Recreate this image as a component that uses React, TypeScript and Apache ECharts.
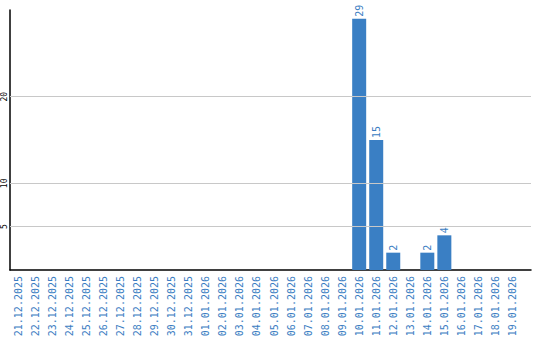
import React, { useEffect, useRef } from "react";
import * as echarts from "echarts";

const categories = [
  "21.12.2025", "22.12.2025", "23.12.2025", "24.12.2025", "25.12.2025",
  "26.12.2025", "27.12.2025", "28.12.2025", "29.12.2025", "30.12.2025",
  "31.12.2025", "01.01.2026", "02.01.2026", "03.01.2026", "04.01.2026",
  "05.01.2026", "06.01.2026", "07.01.2026", "08.01.2026", "09.01.2026",
  "10.01.2026", "11.01.2026", "12.01.2026", "13.01.2026", "14.01.2026",
  "15.01.2026", "16.01.2026", "17.01.2026", "18.01.2026", "19.01.2026",
];
const values = [
  0, 0, 0, 0, 0, 0, 0, 0, 0, 0,
  0, 0, 0, 0, 0, 0, 0, 0, 0, 0,
  29, 15, 2, 0, 2, 4, 0, 0, 0, 0,
];
const yTicks = [5, 10, 20];

export default function App() {
  const ref = useRef<HTMLDivElement>(null);
  useEffect(() => {
    if (!ref.current) return;
    const chart = echarts.init(ref.current, undefined, { renderer: "svg" });
    const mono = "DejaVu Sans Mono";
    chart.setOption({
      animation: false,
      grid: [
        { left: 10, right: 19, top: 10, bottom: 70, containLabel: false },
        { left: 10, right: 9, top: 10, bottom: 70, containLabel: false },
      ],
      xAxis: [
        {
          type: "category",
          gridIndex: 0,
          data: categories,
          axisLine: { show: false },
          axisTick: { show: false },
          axisLabel: {
            rotate: 90,
            interval: 0,
            color: "#3a7dc2",
            fontFamily: mono,
            fontSize: 10,
            margin: 6,
          },
        },
        {
          type: "value",
          gridIndex: 1,
          min: 0,
          max: 1,
          axisLine: { show: true, onZero: false, lineStyle: { color: "#000", width: 1.5 } },
          axisTick: { show: false },
          axisLabel: { show: false },
          splitLine: { show: false },
        },
      ],
      yAxis: [
        {
          type: "value",
          gridIndex: 0,
          min: 0,
          max: 30,
          interval: 5,
          show: false,
        },
        {
          type: "value",
          gridIndex: 1,
          min: 0,
          max: 30,
          interval: 5,
          axisLine: { show: true, onZero: false, lineStyle: { color: "#000", width: 1.5 } },
          axisTick: { show: false },
          splitLine: { show: false },
          axisLabel: {
            rotate: 90,
            color: "#000",
            fontFamily: mono,
            fontSize: 8,
            margin: 2,
            formatter: (v: number) => (yTicks.includes(v) ? String(v) : ""),
          },
        },
      ],
      series: [
        {
          type: "line",
          xAxisIndex: 1,
          yAxisIndex: 1,
          data: [],
          silent: true,
          markLine: {
            silent: true,
            symbol: "none",
            label: { show: false },
            lineStyle: { color: "#c8c8c8", type: "solid", width: 1 },
            data: yTicks.map((t) => ({ yAxis: t })),
          },
          z: 0,
        },
        {
          type: "bar",
          xAxisIndex: 0,
          yAxisIndex: 0,
          data: values,
          barWidth: 14,
          itemStyle: { color: "#3a7fc4" },
          label: {
            show: true,
            position: "top",
            rotate: 90,
            align: "left",
            verticalAlign: "middle",
            distance: 2,
            color: "#3a7dc2",
            fontFamily: mono,
            fontSize: 10,
            formatter: (p: any) => (p.value ? String(p.value) : ""),
          },
          z: 2,
        },
      ],
    });
    return () => chart.dispose();
  }, []);
  return <div ref={ref} style={{ width: 540, height: 340, position: "absolute", left: 0, top: 0 }} />;
}
